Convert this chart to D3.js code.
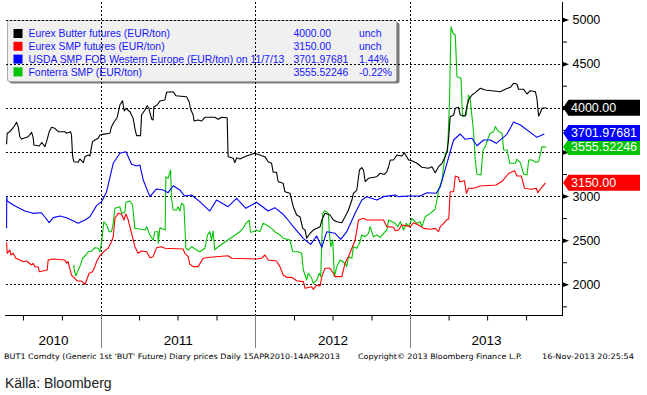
<!DOCTYPE html>
<html>
<head>
<meta charset="utf-8">
<script src="https://cdn.jsdelivr.net/npm/d3@7"></script>
<style>
  html, body { margin: 0; padding: 0; background: #fff; }
  svg { display: block; font-family: "Liberation Sans", Arial, sans-serif; }
</style>
</head>
<body>
<div id="chart"></div>
<script>
// [decimal year, EUR/ton]
const butter = [
  [2010.390, 3586], [2010.394, 3711], [2010.411, 3729], [2010.433, 3774], [2010.455, 3835],
  [2010.465, 3786], [2010.476, 3672], [2010.487, 3646], [2010.530, 3672], [2010.552, 3722],
  [2010.562, 3661], [2010.567, 3578], [2010.601, 3567], [2010.618, 3607], [2010.638, 3559],
  [2010.649, 3616], [2010.666, 3729], [2010.681, 3779], [2010.702, 3767], [2010.724, 3729],
  [2010.767, 3729], [2010.778, 3711], [2010.804, 3729], [2010.810, 3691], [2010.817, 3454],
  [2010.825, 3389], [2010.853, 3382], [2010.864, 3420], [2010.886, 3378], [2010.897, 3446],
  [2010.918, 3465], [2010.929, 3454], [2010.946, 3616], [2010.961, 3635], [2010.983, 3654],
  [2010.994, 3691], [2011.011, 3699], [2011.058, 3711], [2011.069, 3786], [2011.086, 3842],
  [2011.105, 3887], [2011.123, 4031], [2011.140, 4080], [2011.151, 3963], [2011.162, 3994],
  [2011.188, 3955], [2011.209, 3881], [2011.220, 3767], [2011.231, 3684], [2011.257, 3684],
  [2011.263, 3918], [2011.285, 3975], [2011.299, 4023], [2011.310, 4000], [2011.328, 3873],
  [2011.338, 3861], [2011.343, 4012], [2011.364, 4031], [2011.382, 4077], [2011.414, 4088],
  [2011.425, 4175], [2011.468, 4182], [2011.485, 4137], [2011.554, 4125], [2011.571, 4069],
  [2011.580, 3986], [2011.597, 3918], [2011.603, 3850], [2011.629, 3861], [2011.651, 3850],
  [2011.673, 3892], [2011.737, 3892], [2011.759, 3869], [2011.781, 3892], [2011.817, 3887],
  [2011.823, 3446], [2011.856, 3428], [2011.867, 3378], [2011.878, 3434], [2011.899, 3420],
  [2011.942, 3454], [2011.975, 3473], [2011.996, 3484], [2012.028, 3465], [2012.061, 3446],
  [2012.082, 3389], [2012.104, 3371], [2012.115, 3269], [2012.136, 3269], [2012.147, 3162],
  [2012.179, 3144], [2012.190, 3049], [2012.223, 3031], [2012.244, 2879], [2012.266, 2785],
  [2012.287, 2766], [2012.305, 2634], [2012.320, 2615], [2012.331, 2521], [2012.352, 2578],
  [2012.373, 2615], [2012.417, 2653], [2012.428, 2728], [2012.449, 2804], [2012.481, 2785],
  [2012.503, 2728], [2012.525, 2709], [2012.557, 2698], [2012.578, 2766], [2012.600, 2842],
  [2012.622, 2955], [2012.632, 3031], [2012.654, 3068], [2012.671, 3295], [2012.686, 3321],
  [2012.697, 3295], [2012.708, 3162], [2012.729, 3201], [2012.783, 3219], [2012.805, 3258],
  [2012.831, 3244], [2012.848, 3276], [2012.859, 3332], [2012.870, 3408], [2012.891, 3408],
  [2012.913, 3465], [2012.945, 3454], [2012.960, 3491], [2012.988, 3408], [2013.010, 3400],
  [2013.042, 3371], [2013.074, 3326], [2013.117, 3314], [2013.139, 3332], [2013.160, 3264],
  [2013.182, 3332], [2013.204, 3371], [2013.225, 3446], [2013.236, 3502], [2013.246, 3635],
  [2013.257, 3899], [2013.279, 3918], [2013.290, 3994], [2013.311, 4005], [2013.322, 3918],
  [2013.354, 3907], [2013.365, 4012], [2013.376, 4088], [2013.398, 4145], [2013.419, 4171],
  [2013.452, 4221], [2013.484, 4201], [2013.581, 4182], [2013.613, 4209], [2013.646, 4232],
  [2013.667, 4277], [2013.689, 4269], [2013.699, 4209], [2013.732, 4209], [2013.754, 4156],
  [2013.775, 4193], [2013.808, 4182], [2013.818, 4107], [2013.829, 3907], [2013.840, 3944],
  [2013.851, 3994], [2013.879, 4000]
];

const smp = [
  [2010.390, 2476], [2010.394, 2351], [2010.411, 2389], [2010.418, 2332], [2010.433, 2351],
  [2010.450, 2295], [2010.476, 2275], [2010.497, 2256], [2010.519, 2264], [2010.552, 2219],
  [2010.562, 2238], [2010.573, 2200], [2010.595, 2196], [2010.601, 2143], [2010.653, 2162],
  [2010.659, 2275], [2010.691, 2287], [2010.767, 2275], [2010.778, 2238], [2010.788, 2256],
  [2010.799, 2181], [2010.810, 2105], [2010.832, 2068], [2010.847, 2037], [2010.875, 2037],
  [2010.897, 2000], [2010.908, 2049], [2010.924, 2125], [2010.946, 2143], [2010.961, 2200],
  [2010.972, 2256], [2010.994, 2324], [2011.026, 2381], [2011.047, 2408], [2011.069, 2483],
  [2011.080, 2539], [2011.091, 2748], [2011.112, 2804], [2011.134, 2793], [2011.149, 2728],
  [2011.162, 2796], [2011.177, 2728], [2011.199, 2578], [2011.220, 2426], [2011.241, 2351],
  [2011.263, 2377], [2011.296, 2369], [2011.317, 2301], [2011.338, 2313], [2011.360, 2415],
  [2011.393, 2426], [2011.414, 2408], [2011.532, 2400], [2011.543, 2351], [2011.565, 2313],
  [2011.576, 2227], [2011.597, 2200], [2011.629, 2200], [2011.662, 2295], [2011.705, 2306],
  [2011.823, 2324], [2011.845, 2295], [2012.007, 2287], [2012.039, 2295], [2012.061, 2332],
  [2012.082, 2275], [2012.136, 2264], [2012.158, 2200], [2012.179, 2105], [2012.201, 2079],
  [2012.234, 2079], [2012.266, 2041], [2012.309, 2030], [2012.320, 1955], [2012.363, 1973],
  [2012.373, 1943], [2012.395, 1992], [2012.417, 1981], [2012.428, 2087], [2012.449, 2181],
  [2012.481, 2181], [2012.503, 2125], [2012.514, 2087], [2012.557, 2087], [2012.578, 2238],
  [2012.600, 2313], [2012.622, 2408], [2012.643, 2502], [2012.665, 2728], [2012.697, 2748],
  [2012.718, 2728], [2012.826, 2728], [2012.848, 2653], [2012.891, 2646], [2012.902, 2607],
  [2012.923, 2615], [2012.945, 2672], [2012.999, 2653], [2013.020, 2698], [2013.052, 2672],
  [2013.085, 2634], [2013.128, 2623], [2013.160, 2634], [2013.182, 2596], [2013.193, 2653],
  [2013.215, 2691], [2013.232, 2728], [2013.248, 2740], [2013.257, 3049], [2013.279, 3049],
  [2013.290, 3227], [2013.311, 3212], [2013.318, 3162], [2013.349, 3174], [2013.362, 3031],
  [2013.376, 3088], [2013.409, 3088], [2013.452, 3114], [2013.554, 3125], [2013.597, 3174],
  [2013.636, 3258], [2013.674, 3287], [2013.689, 3227], [2013.717, 3227], [2013.738, 3088],
  [2013.781, 3076], [2013.814, 3088], [2013.824, 3038], [2013.835, 3068], [2013.874, 3150]
];

const usda = [
  [2010.390, 2634], [2010.391, 2993], [2010.394, 2944], [2010.433, 2898], [2010.508, 2830],
  [2010.562, 2804], [2010.616, 2811], [2010.631, 2777], [2010.666, 2698], [2010.691, 2755],
  [2010.735, 2774], [2010.778, 2755], [2010.853, 2691], [2010.897, 2728], [2010.929, 2766],
  [2010.972, 2891], [2011.005, 2936], [2011.037, 3049], [2011.080, 3371], [2011.123, 3484],
  [2011.162, 3502], [2011.199, 3360], [2011.231, 3340], [2011.252, 3352], [2011.274, 3182],
  [2011.317, 2993], [2011.360, 3080], [2011.403, 3068], [2011.435, 3038], [2011.468, 3117],
  [2011.511, 3068], [2011.543, 3000], [2011.587, 3012], [2011.640, 2936], [2011.705, 2830],
  [2011.748, 2955], [2011.823, 2879], [2011.878, 2974], [2011.938, 2861], [2012.007, 2929],
  [2012.082, 2830], [2012.125, 2868], [2012.179, 2793], [2012.201, 2748], [2012.244, 2653],
  [2012.309, 2521], [2012.356, 2453], [2012.395, 2547], [2012.428, 2419], [2012.460, 2596],
  [2012.514, 2578], [2012.550, 2510], [2012.589, 2596], [2012.643, 2804], [2012.686, 2955],
  [2012.718, 2993], [2012.783, 2955], [2012.826, 2993], [2012.902, 3012], [2012.923, 2993],
  [2012.988, 3000], [2013.063, 3000], [2013.107, 3038], [2013.167, 3031], [2013.193, 3106],
  [2013.236, 3371], [2013.279, 3635], [2013.322, 3703], [2013.354, 3643], [2013.398, 3654],
  [2013.430, 3570], [2013.473, 3635], [2013.516, 3635], [2013.555, 3597], [2013.624, 3699],
  [2013.667, 3839], [2013.711, 3805], [2013.818, 3665], [2013.866, 3702]
];

const fonterra = [
  [2010.825, 2219], [2010.828, 2162], [2010.838, 2098], [2010.864, 2200], [2010.882, 2295],
  [2010.903, 2332], [2010.918, 2369], [2010.940, 2377], [2010.961, 2415], [2010.983, 2408],
  [2010.994, 2369], [2011.005, 2483], [2011.019, 2709], [2011.037, 2672], [2011.054, 2596],
  [2011.069, 2596], [2011.080, 2691], [2011.091, 2861], [2011.123, 2879], [2011.134, 2804],
  [2011.155, 2816], [2011.162, 2929], [2011.188, 2944], [2011.205, 2898], [2011.220, 2634],
  [2011.252, 2627], [2011.285, 2615], [2011.296, 2653], [2011.317, 2559], [2011.338, 2502],
  [2011.349, 2596], [2011.369, 2596], [2011.371, 2465], [2011.382, 2641], [2011.416, 2615],
  [2011.420, 3219], [2011.435, 3201], [2011.451, 3295], [2011.457, 2974], [2011.468, 2842],
  [2011.490, 2842], [2011.500, 2879], [2011.511, 2830], [2011.522, 2918], [2011.537, 2898],
  [2011.550, 2408], [2011.565, 2389], [2011.587, 2426], [2011.619, 2389], [2011.640, 2369],
  [2011.673, 2408], [2011.690, 2559], [2011.705, 2596], [2011.716, 2502], [2011.726, 2604],
  [2011.737, 2389], [2011.759, 2426], [2011.899, 2596], [2011.920, 2634], [2011.938, 2691],
  [2011.959, 2728], [2011.968, 2589], [2011.985, 2596], [2012.007, 2615], [2012.028, 2596],
  [2012.050, 2691], [2012.072, 2672], [2012.104, 2634], [2012.125, 2596], [2012.158, 2559],
  [2012.179, 2521], [2012.223, 2502], [2012.240, 2369], [2012.276, 2369], [2012.298, 2351],
  [2012.309, 2162], [2012.331, 2049], [2012.341, 2125], [2012.363, 2068], [2012.373, 2011],
  [2012.395, 2049], [2012.412, 2125], [2012.421, 2087], [2012.434, 2804], [2012.449, 2834],
  [2012.470, 2804], [2012.477, 2578], [2012.486, 2426], [2012.499, 2502], [2012.509, 2087],
  [2012.525, 2200], [2012.546, 2275], [2012.578, 2238], [2012.589, 2200], [2012.600, 2313],
  [2012.622, 2295], [2012.632, 2426], [2012.654, 2408], [2012.671, 2465], [2012.686, 2559],
  [2012.708, 2539], [2012.729, 2578], [2012.740, 2653], [2012.761, 2539], [2012.783, 2559],
  [2012.805, 2532], [2012.826, 2578], [2012.848, 2615], [2012.859, 2728], [2012.881, 2709],
  [2012.902, 2691], [2012.917, 2653], [2012.935, 2709], [2012.956, 2615], [2012.973, 2691],
  [2012.988, 2653], [2013.010, 2748], [2013.020, 2728], [2013.042, 2691], [2013.063, 2709],
  [2013.074, 2653], [2013.096, 2766], [2013.128, 2804], [2013.160, 2850], [2013.171, 2955],
  [2013.182, 3068], [2013.204, 3182], [2013.225, 3484], [2013.240, 3502], [2013.253, 4088],
  [2013.262, 4918], [2013.275, 4844], [2013.290, 4824], [2013.301, 4352], [2013.327, 4334],
  [2013.337, 3899], [2013.360, 3918], [2013.376, 4145], [2013.387, 4088], [2013.409, 3711],
  [2013.419, 3408], [2013.430, 3250], [2013.456, 3238], [2013.469, 3522], [2013.484, 3559],
  [2013.506, 3672], [2013.516, 3711], [2013.538, 3729], [2013.549, 3786], [2013.571, 3729],
  [2013.593, 3711], [2013.603, 3522], [2013.625, 3522], [2013.642, 3371], [2013.679, 3371],
  [2013.689, 3416], [2013.711, 3378], [2013.732, 3250], [2013.754, 3238], [2013.765, 3408],
  [2013.787, 3408], [2013.808, 3382], [2013.829, 3389], [2013.851, 3559], [2013.879, 3556]
];

const seriesNames = [
  "Eurex Butter futures (EUR/ton)",
  "Eurex SMP futures (EUR/ton)",
  "USDA SMP FOB Western Europe (EUR/ton) on 11/7/13",
  "Fonterra SMP (EUR/ton)"
];
const lastValues = [4000, 3150, 3701.97681, 3555.52246];
const lastLabels = ["4000.00", "3150.00", "3701.97681", "3555.52246"];
const changes = ["unch", "unch", "1.44%", "-0.22%"];
const colors = ["#000000", "#ff0000", "#0000ff", "#00c400"];
const yTicks = [2000, 2500, 3000, 3500, 4000, 4500, 5000];
const yMinor = [1750, 2250, 2750, 3250, 3750, 4250, 4750];
const years = [2010, 2011, 2012, 2013];
const footerLeft = "BUT1 Comdty (Generic 1st 'BUT' Future) Diary prices  Daily 15APR2010-14APR2013";
const footerMid = "Copyright\u00a9 2013 Bloomberg Finance L.P.";
const footerRight = "16-Nov-2013 20:25:54";
const source = "Källa: Bloomberg";

const width = 647, height = 395;
const plotLeft = 6, plotRight = 562.5, plotTop = 2, plotBottom = 315;

const toDate = t => {
  const yr = Math.floor(t);
  const a = new Date(yr, 0, 1), b = new Date(yr + 1, 0, 1);
  return new Date(+a + (t - yr) * (b - a));
};

const x = d3.scaleTime()
  .domain([new Date(2010, 4, 22), new Date(2013, 11, 26)])
  .range([plotLeft, plotRight]);
const y = d3.scaleLinear()
  .domain([2000, 5000])
  .range([284.3, 19.5]);
const crisp = v => Math.round(v) + 0.5;

const svg = d3.select("#chart").append("svg")
  .attr("width", width)
  .attr("height", height)
  .attr("viewBox", [0, 0, width, height]);

// legend box sits under the grid, like the original
const legend = svg.append("g");
legend.append("rect")
  .attr("x", 9.5).attr("y", 22.5)
  .attr("width", 390).attr("height", 61)
  .attr("rx", 2)
  .attr("fill", "#7a7a7a");
legend.append("rect")
  .attr("x", 7.5).attr("y", 20.5)
  .attr("width", 389).attr("height", 61)
  .attr("rx", 2)
  .attr("fill", "#f0f0f0")
  .attr("stroke", "#a8a8a8");

// grid
const grid = svg.append("g")
  .attr("stroke", "#000")
  .attr("stroke-dasharray", "2,2");
grid.selectAll("line.h")
  .data(yTicks)
  .join("line")
  .attr("class", "h")
  .attr("x1", plotLeft).attr("x2", plotRight)
  .attr("y1", d => crisp(y(d))).attr("y2", d => crisp(y(d)));
const yearStarts = d3.timeYear.range(new Date(2011, 0, 1), new Date(2014, 0, 1));
grid.selectAll("line.v")
  .data(yearStarts)
  .join("line")
  .attr("class", "v")
  .attr("x1", d => crisp(x(d))).attr("x2", d => crisp(x(d)))
  .attr("y1", plotTop).attr("y2", plotBottom);

// legend rows
const rows = legend.selectAll("g.row")
  .data(seriesNames)
  .join("g")
  .attr("class", "row")
  .attr("transform", (d, i) => `translate(0,${33.5 + i * 12.8})`)
  .attr("font-size", 10.4)
  .attr("fill", "#1616ff");
rows.append("rect")
  .attr("x", 13.5).attr("y", -4.5)
  .attr("width", 9).attr("height", 9)
  .attr("fill", (d, i) => colors[i]);
rows.append("text")
  .attr("x", 28.5).attr("dy", "0.36em")
  .text(d => d);
rows.append("text")
  .attr("x", 293.5).attr("dy", "0.36em")
  .text((d, i) => lastLabels[i]);
rows.append("text")
  .attr("x", 359).attr("dy", "0.36em")
  .text((d, i) => changes[i]);

// lines
const line = d3.line()
  .x(d => x(toDate(d[0])))
  .y(d => y(d[1]));
const series = [butter, smp, usda, fonterra];
const drawOrder = [3, 1, 2, 0];
svg.append("g")
  .attr("fill", "none")
  .attr("stroke-width", 1.1)
  .attr("stroke-linejoin", "round")
  .selectAll("path")
  .data(drawOrder)
  .join("path")
  .attr("stroke", i => colors[i])
  .attr("d", i => line(series[i]));

// bottom axis: quarterly ticks, long year separators
const quarters = d3.timeMonth.every(3).range(x.domain()[0], x.domain()[1])
  .filter(d => d.getMonth() !== 0);
const xAxis = svg.append("g")
  .attr("transform", `translate(0,${plotBottom + 0.5})`)
  .call(d3.axisBottom(x).tickValues(quarters).tickSize(5).tickFormat(""));
xAxis.select(".domain").remove();
svg.append("line")
  .attr("x1", 5).attr("x2", plotRight)
  .attr("y1", plotBottom + 0.5).attr("y2", plotBottom + 0.5)
  .attr("stroke", "#000");
svg.selectAll("line.sep")
  .data(yearStarts)
  .join("line")
  .attr("class", "sep")
  .attr("x1", d => crisp(x(d))).attr("x2", d => crisp(x(d)))
  .attr("y1", plotBottom).attr("y2", 348)
  .attr("stroke", "#808080");
svg.selectAll("text.year")
  .data(years)
  .join("text")
  .attr("class", "year")
  .attr("x", d => {
    const a = Math.max(plotLeft, x(new Date(d, 0, 1)));
    const b = Math.min(plotRight, x(new Date(d + 1, 0, 1)));
    return (a + b) / 2;
  })
  .attr("y", 344.5)
  .attr("text-anchor", "middle")
  .attr("font-size", 13.5)
  .attr("fill", "#000")
  .text(d => d);

// last value tags, nudged apart where they collide
const tagH = 16;
const tags = lastValues.map((v, i) => ({ i, cy: y(v) }));
const byY = tags.slice().sort((a, b) => a.cy - b.cy);
for (let k = byY.length - 2; k >= 0; k--) {
  const gap = byY[k + 1].cy - byY[k].cy;
  if (gap < tagH - 2) byY[k].cy = byY[k + 1].cy - (tagH - 2);
}
// axis labels that sit under a tag are not readable in the original
const covered = v => tags.some(t => Math.abs(t.cy - y(v)) < tagH / 2);

// right axis
svg.append("line")
  .attr("x1", plotRight).attr("x2", plotRight)
  .attr("y1", plotTop).attr("y2", plotBottom + 1)
  .attr("stroke", "#000");
const minorAxis = svg.append("g")
  .attr("transform", `translate(${plotRight},0)`)
  .call(d3.axisRight(y).tickValues(yMinor).tickSize(4.5).tickFormat(""));
minorAxis.select(".domain").remove();
const yAxis = svg.append("g")
  .attr("transform", `translate(${plotRight},0)`)
  .call(d3.axisRight(y)
    .tickValues(yTicks)
    .tickSize(0)
    .tickPadding(10)
    .tickFormat(v => covered(v) ? "" : d3.format("d")(v)));
yAxis.select(".domain").remove();
yAxis.selectAll(".tick text")
  .attr("font-family", "Liberation Sans, Arial, sans-serif")
  .attr("font-size", 12.5)
  .attr("fill", "#000");
yAxis.selectAll(".tick").append("path")
  .attr("d", "M0,-2.5L6.5,0L0,2.5Z")
  .attr("fill", "#000");

const tagOrder = [0, 1, 3, 2];
const tag = svg.append("g")
  .selectAll("g")
  .data(tagOrder.map(i => tags[i]))
  .join("g")
  .attr("transform", d => `translate(0,${d.cy})`);
tag.append("path")
  .attr("d", `M${plotRight + 0.5},0L${plotRight + 6},${-tagH / 2}L640,${-tagH / 2}L640,${tagH / 2}L${plotRight + 6},${tagH / 2}Z`)
  .attr("fill", d => colors[d.i]);
tag.append("text")
  .attr("x", 571)
  .attr("dy", "0.36em")
  .attr("font-size", 12.5)
  .attr("fill", "#fff")
  .text(d => lastLabels[d.i]);

// footer
const foot = svg.append("g")
  .attr("font-family", "DejaVu Sans, sans-serif")
  .attr("font-size", 7.5)
  .attr("fill", "#000");
foot.append("text").attr("x", 4).attr("y", 359)
  .attr("textLength", 336).attr("lengthAdjust", "spacingAndGlyphs")
  .text(footerLeft);
foot.append("text").attr("x", 358).attr("y", 359)
  .attr("textLength", 164).attr("lengthAdjust", "spacingAndGlyphs")
  .text(footerMid);
foot.append("text").attr("x", 542).attr("y", 359)
  .attr("textLength", 92).attr("lengthAdjust", "spacingAndGlyphs")
  .text(footerRight);

svg.append("text")
  .attr("x", 5).attr("y", 388)
  .attr("font-size", 14)
  .attr("fill", "#222")
  .text(source);
</script>
</body>
</html>
